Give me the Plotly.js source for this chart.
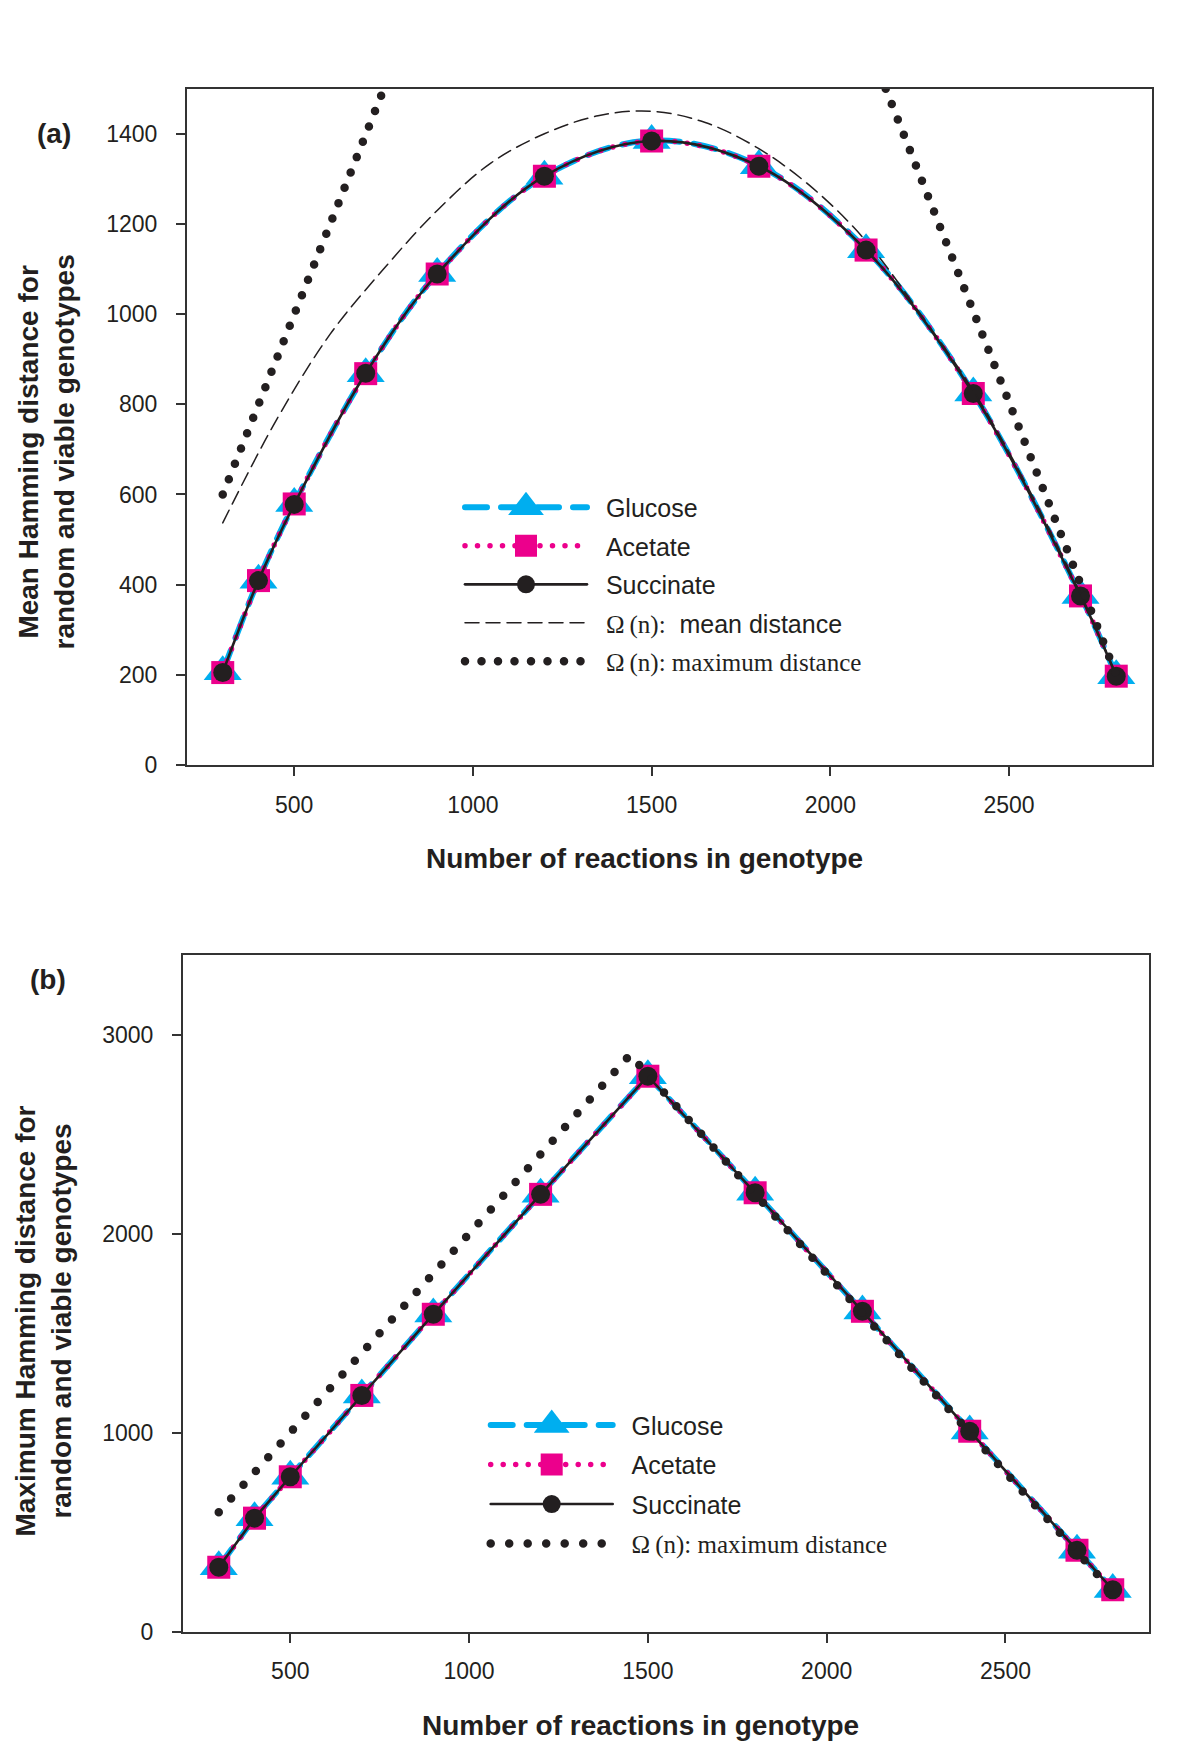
<!DOCTYPE html>
<html>
<head>
<meta charset="utf-8">
<script src="https://cdn.plot.ly/plotly-3.0.1.min.js"></script>
<style>
html, body { margin: 0; padding: 0; background: #ffffff; }
#chart { width: 1200px; height: 1749px; }
#chart .js-line { stroke-linecap: round; }
</style>
</head>
<body>
<div id="chart"></div>
<script>
// ---------- data ----------
const reactions = [300, 400, 500, 700, 900, 1200, 1500, 1800, 2100, 2400, 2700, 2800];

// panel (a): mean Hamming distance
const glucoseMean   = [207, 410, 580, 868, 1090, 1306, 1385, 1329, 1143, 825, 376, 198];
const acetateMean   = [205, 409, 579, 868, 1089, 1306, 1384, 1328, 1142, 824, 375, 197];
const succinateMean = [205, 409, 578, 869, 1089, 1306, 1384, 1328, 1142, 824, 375, 197];

const omegaMeanN = [300, 450, 600, 750, 900, 1050, 1200, 1350, 1500, 1650, 1800, 1950, 2100, 2250, 2400, 2550, 2700, 2800];
const omegaMeanV = [537, 765, 955, 1100, 1230, 1335, 1400, 1440, 1450, 1425, 1367, 1280, 1162, 1003, 830, 620, 380, 200];

const omegaMaxAN = [300, 751, null, 2155, 2800];
const omegaMaxAV = [600, 1500, null, 1500, 200];

// panel (b): maximum Hamming distance
const glucoseMax   = [325, 572, 780, 1189, 1596, 2199, 2794, 2208, 1611, 1008, 409, 211];
const acetateMax   = [323, 570, 778, 1187, 1595, 2198, 2792, 2206, 1610, 1007, 408, 210];
const succinateMax = [323, 570, 778, 1187, 1595, 2198, 2792, 2206, 1610, 1007, 408, 210];

const omegaMaxBN = [300, 1450, 2800];
const omegaMaxBV = [600, 2900, 200];

// tick labels
const xTicks = [500, 1000, 1500, 2000, 2500];
const yTicksA = [0, 200, 400, 600, 800, 1000, 1200, 1400];
const yTicksB = [0, 1000, 2000, 3000];

// ---------- styles ----------
const CYAN = '#00aeef', MAGENTA = '#ec008c', INK = '#231f20', FRAME = '#333333';
const SANS = 'Liberation Sans, Arial, sans-serif';
const W = 1200, H = 1749;
const px = v => v / W;
const py = v => 1 - v / H;
const lead = '\u00a0\u00a0';
const serif = s => '<span style="font-family:Liberation Serif">' + s + '</span>';

function series(xa, ya, leg, grp, spline) {
  const shape = spline ? 'spline' : 'linear';
  const yref = 'y' + xa.slice(1);
  return [
    { x: reactions, y: ya[0], name: lead + 'Glucose', mode: 'lines+markers',
      line: { color: CYAN, width: 6, dash: '22px,14px', shape: shape },
      marker: { symbol: 'triangle-up', size: 33, color: CYAN },
      xaxis: xa, yaxis: yref, legend: leg, legendgroup: grp + '1' },
    { x: reactions, y: ya[1], name: lead + 'Acetate', mode: 'lines+markers',
      line: { color: MAGENTA, width: 5.5, dash: '0px,12.5px', shape: shape },
      marker: { symbol: 'square', size: 23, color: MAGENTA },
      xaxis: xa, yaxis: yref, legend: leg, legendgroup: grp + '2' },
    { x: reactions, y: ya[2], name: lead + 'Succinate', mode: 'lines+markers',
      line: { color: INK, width: 2.6, shape: shape },
      marker: { symbol: 'circle', size: 19, color: INK },
      xaxis: xa, yaxis: yref, legend: leg, legendgroup: grp + '3' }
  ];
}

const tracesA = series('x', [glucoseMean, acetateMean, succinateMean], 'legend', 'a', true);
tracesA.push(
  { x: omegaMeanN, y: omegaMeanV, name: lead + serif('\u03a9\u2009(n):') + '\u00a0\u00a0mean distance', mode: 'lines',
    line: { color: INK, width: 1.5, dash: '14px,7px', shape: 'spline' },
    xaxis: 'x', yaxis: 'y', legend: 'legend', legendgroup: 'a4' },
  { x: omegaMaxAN, y: omegaMaxAV, name: lead + serif('\u03a9\u2009(n): maximum distance'), mode: 'lines',
    line: { color: INK, width: 8.5, dash: '0px,16.5px' }, connectgaps: false,
    xaxis: 'x', yaxis: 'y', legend: 'legend', legendgroup: 'a5' }
);

const tracesB = series('x2', [glucoseMax, acetateMax, succinateMax], 'legend2', 'b', false);
tracesB.push(
  { x: omegaMaxBN, y: omegaMaxBV, name: lead + serif('\u03a9\u2009(n): maximum distance'), mode: 'lines',
    line: { color: INK, width: 8.5, dash: '0px,18.5px' },
    xaxis: 'x2', yaxis: 'y2', legend: 'legend2', legendgroup: 'b4' }
);

const axisCommon = {
  showline: true, linecolor: FRAME, linewidth: 2, mirror: true,
  ticks: 'outside', ticklen: 9, tickwidth: 2, tickcolor: FRAME,
  showgrid: false, zeroline: false, tickfont: { size: 23, color: INK, family: SANS },
  fixedrange: true
};

const legendCommon = {
  xanchor: 'left', yanchor: 'top', bgcolor: 'rgba(0,0,0,0)', borderwidth: 0,
  itemwidth: 122, traceorder: 'grouped', font: { size: 25, color: INK, family: SANS },
  itemclick: false, itemdoubleclick: false
};

const titleFont = { family: SANS, size: 28, color: INK, weight: 700 };

const layout = {
  width: W, height: H,
  margin: { l: 0, r: 0, t: 0, b: 0 },
  paper_bgcolor: '#ffffff', plot_bgcolor: '#ffffff',
  font: { family: SANS, color: INK, size: 23 },
  showlegend: true,
  xaxis: Object.assign({}, axisCommon, { domain: [px(187), px(1152)], range: [200, 2900], tickvals: xTicks, anchor: 'y', ticklabelstandoff: 9 }),
  yaxis: Object.assign({}, axisCommon, { domain: [py(765), py(88.7)], range: [0, 1500], tickvals: yTicksA, anchor: 'x', ticklabelstandoff: 14 }),
  xaxis2: Object.assign({}, axisCommon, { domain: [px(183), px(1148.5)], range: [200, 2900], tickvals: xTicks, anchor: 'y2', ticklabelstandoff: 9 }),
  yaxis2: Object.assign({}, axisCommon, { domain: [py(1631.5), py(955.3)], range: [0, 3400], tickvals: yTicksB, anchor: 'x2', ticklabelstandoff: 14 }),
  legend: Object.assign({}, legendCommon, { x: px(460), y: py(484.6), tracegroupgap: 3 }),
  legend2: Object.assign({}, legendCommon, { x: px(485.7), y: py(1402.3), tracegroupgap: 4 }),
  annotations: [
    { text: '(a)', x: px(53.5), y: py(133.8) },
    { text: '(b)', x: px(48), y: py(979) },
    { text: 'Number of reactions in genotype', x: px(644.6), y: py(858.7) },
    { text: 'Number of reactions in genotype', x: px(640.7), y: py(1725) },
    { text: 'Mean Hamming distance for<br>random and viable genotypes', x: px(45.5), y: py(452), textangle: -90 },
    { text: 'Maximum Hamming distance for<br>random and viable genotypes', x: px(43), y: py(1321.5), textangle: -90 }
  ].map(a => Object.assign({ xref: 'paper', yref: 'paper', xanchor: 'center', yanchor: 'middle',
                             showarrow: false, font: titleFont }, a))
};

// legend symbols are capped by Plotly at 16px; enlarge them to the reference size
const legendSymbolSize = { 'triangle-up': 31, 'square': 22, 'circle': 18 };

Plotly.newPlot('chart', tracesA.concat(tracesB), layout, { displayModeBar: false, staticPlot: true })
  .then(function (gd) {
    gd.querySelectorAll('g.traces').forEach(function (el) {
      const d = el.__data__;
      if (!d || !d[0] || !d[0].trace || !d[0].trace.marker) return;
      const want = legendSymbolSize[d[0].trace.marker.symbol];
      if (!want) return;
      const f = want / Math.min(d[0].trace.marker.size, 16);
      el.querySelectorAll('path.scatterpts').forEach(function (p) {
        p.setAttribute('transform', (p.getAttribute('transform') || '') + ' scale(' + f + ')');
      });
    });
  });
</script>
</body>
</html>
